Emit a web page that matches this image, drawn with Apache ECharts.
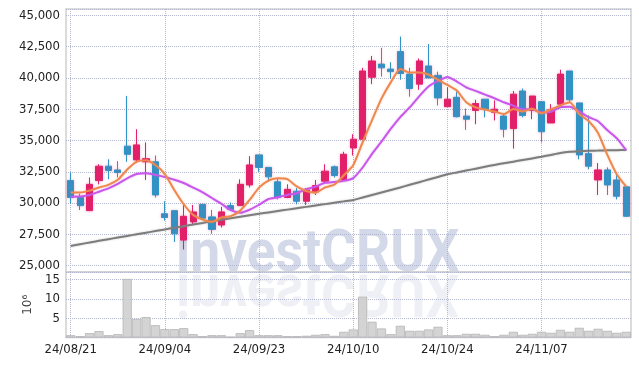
<!DOCTYPE html>
<html><head><meta charset="utf-8">
<script src="https://cdn.jsdelivr.net/npm/echarts@6/dist/echarts.min.js"></script>
<style>html,body{margin:0;padding:0;background:#fff}#c{width:639px;height:366px}</style>
</head><body><div id="c"></div>
<script>
const dates = ['24/08/21','24/08/22','24/08/23','24/08/26','24/08/27','24/08/28','24/08/29','24/08/30','24/09/02','24/09/03',
'24/09/04','24/09/05','24/09/06','24/09/09','24/09/10','24/09/11','24/09/12','24/09/13','24/09/19','24/09/20',
'24/09/23','24/09/24','24/09/25','24/09/26','24/09/27','24/09/30','24/10/02','24/10/04','24/10/07','24/10/08',
'24/10/10','24/10/11','24/10/14','24/10/15','24/10/16','24/10/17','24/10/18','24/10/21','24/10/22','24/10/23',
'24/10/24','24/10/25','24/10/28','24/10/29','24/10/30','24/10/31','24/11/01','24/11/04','24/11/05','24/11/06',
'24/11/07','24/11/08','24/11/11','24/11/12','24/11/13','24/11/14','24/11/15','24/11/18','24/11/19','24/11/20'];
const opens = [31800,30450,29400,31800,32950,32650,34550,33450,33300,33300,
29150,29400,27050,28500,29900,28900,28250,29800,29800,31450,
33850,32850,31700,30450,30950,30150,30900,31750,32900,31850,
34400,35100,40050,41100,40700,42100,40300,39500,40950,40200,
37700,38450,36950,37400,38300,37250,36950,35950,38950,37400,
38100,36400,37900,40550,38000,33950,31850,32650,31850,31300];
const closes = [30450,29800,31500,32950,32600,32450,33900,34650,33550,30650,
28850,27550,28950,29300,28800,27900,29300,29500,31500,33050,
32850,32100,30450,31100,30150,31050,31400,32550,32200,33900,
35100,40550,41350,40800,40500,40350,39150,41350,40000,38400,
38300,36900,36700,37950,37500,37500,35900,38700,37000,38550,
35700,37450,40300,38250,33850,32950,32650,31450,30550,28950];
const lows = [29950,29450,29400,31500,31900,32050,33300,33200,31850,30450,
28600,26900,26300,28250,28750,27550,28050,29450,29800,31250,
32500,31700,30300,30400,29900,29850,30650,31650,32050,31850,
33800,35100,39500,40100,39950,39850,38500,39050,40000,37800,
37700,36850,35850,36300,36850,36600,35250,34350,36850,36700,
34850,36400,37900,38050,33500,32700,30650,30650,30300,28900];
const highs = [32450,30750,32050,33100,33500,33350,38550,35900,34850,33800,
30150,29450,29850,29850,29900,29450,29700,30050,31900,33750,
33850,32850,31950,31500,31200,31200,31850,33100,33000,34100,
35500,40800,41750,42400,41250,43300,40800,41550,42700,40500,
39250,38900,37550,38250,38300,38200,37200,38950,39150,38550,
38100,37900,40650,40550,38000,37000,33200,32850,32250,31300];
const ma5 = [30850,30850,31000,31250,31460,31860,32680,33310,33430,33040,
32320,31050,29910,29060,28690,28500,28850,28960,29400,30250,
31240,31800,31990,31910,31330,30970,30830,31250,31470,32220,
33030,34860,36620,38340,39660,40710,40430,40430,40270,39850,
39440,38990,38060,37650,37470,37310,37110,37510,37320,37530,
37170,37480,37800,38050,37110,36560,35600,33830,32290,31310];
const ma10 = [30510,30520,30650,30910,31180,31530,31980,32320,32380,32250,
32090,31865,31610,31245,30865,30410,29950,29435,29230,29470,
29870,30325,30475,30655,30790,31105,31315,31620,31690,31775,
32000,32845,33935,34905,35940,36870,37645,38525,39305,39755,
40075,39710,39245,38960,38660,38375,38050,37785,37485,37500,
37240,37295,37655,37685,37320,36865,36540,35815,35170,34210];
const ma60 = [26580,26720,26850,26990,27120,27250,27380,27510,27640,27770,
27900,28030,28160,28290,28420,28550,28670,28790,28910,29030,
29150,29260,29370,29480,29590,29700,29810,29920,30030,30140,
30250,30450,30650,30850,31050,31250,31460,31670,31880,32090,
32300,32450,32600,32750,32900,33050,33180,33310,33440,33570,
33700,33850,34000,34100,34150,34180,34200,34220,34230,34240];
const volumes = [0.6,0.35,1.13,1.65,0.6,0.87,15.2,4.8,5.3,3.2,
2.17,2.17,2.43,0.87,0.35,0.6,0.6,0.17,1.13,1.9,
0.6,0.6,0.6,0.35,0.35,0.45,0.7,0.87,0.43,1.48,
2.09,10.6,4.09,2.35,0.87,3.04,1.74,1.74,2.09,2.78,
0.6,0.6,0.96,0.96,0.7,0.35,0.7,1.48,0.7,0.96,
1.48,1.22,2.0,1.48,2.52,1.74,2.26,1.74,1.22,1.48];

const FONT = "'DejaVu Sans Condensed',sans-serif";
const gridDot = {type:'dotted', color:'#b4b9cf', width:1};
const candleData = opens.map((o,i)=>[o, closes[i], lows[i], highs[i]]);
const WM_FONT = "bold 60px 'Roboto',sans-serif";

const chart = echarts.init(document.getElementById('c'), null, {renderer:'canvas'});
chart.setOption({
  animation:false,
  backgroundColor:'#fff',
  grid:[
    {left:66, top:9, width:565, height:263, show:true, borderColor:'#d0d0d0', borderWidth:1.5},
    {left:66, top:272, width:565, height:65.5, show:true, borderColor:'#d0d0d0', borderWidth:1.5}
  ],
  xAxis:[
    {type:'category', gridIndex:0, data:dates, boundaryGap:true,
     axisLine:{show:false}, axisTick:{show:false}, axisLabel:{show:false},
     splitLine:{show:true, interval:9, alignWithLabel:true, lineStyle:gridDot}},
    {type:'category', gridIndex:1, data:dates, boundaryGap:true,
     axisLine:{show:false}, axisTick:{show:false},
     axisLabel:{interval:9, fontFamily:FONT, fontSize:13, color:'#222', margin:6},
     splitLine:{show:true, interval:9, alignWithLabel:true, lineStyle:gridDot}}
  ],
  yAxis:[
    {type:'value', gridIndex:0, min:24500, max:45500, minInterval:2500, maxInterval:2500, splitNumber:8,
     axisLine:{show:false}, axisTick:{show:false},
     axisLabel:{showMinLabel:false, showMaxLabel:false, fontFamily:FONT, fontSize:13, color:'#222', margin:6,
       formatter:v=>v.toLocaleString('en-US')},
     splitLine:{show:true, lineStyle:gridDot}},
    {type:'value', gridIndex:1, min:0, max:17, minInterval:5, maxInterval:5, splitNumber:3,
     axisLine:{show:false}, axisTick:{show:false},
     name:'10\u2076', nameLocation:'middle', nameRotate:90, nameGap:27,
     nameTextStyle:{fontFamily:"'DejaVu Sans',sans-serif", fontSize:12, color:'#444'},
     axisLabel:{showMinLabel:false, showMaxLabel:false, fontFamily:FONT, fontSize:13, color:'#222', margin:6},
     splitLine:{show:true, lineStyle:gridDot}}
  ],
  graphic:[
    {type:'text', x:176, y:226, scaleX:0.89, z:0, silent:true,
     style:{text:'investCRUX', font:WM_FONT, fill:'rgba(170,180,212,0.5)'}},
    {type:'text', x:176, y:320, scaleX:0.89, scaleY:-1, z:0, silent:true,
     style:{text:'investCRUX', font:WM_FONT, fill:'rgba(170,180,212,0.2)'}}
  ],
  series:[
    {type:'candlestick', xAxisIndex:0, yAxisIndex:0, data:candleData, barWidth:'70%', z:3,
     itemStyle:{color:'#e2216a', color0:'#2f95c7', borderColor:'#e2216a', borderColor0:'#2f95c7', borderWidth:1,
       shadowBlur:3, shadowColor:'rgba(226,33,106,0.25)'}},
    {type:'line', xAxisIndex:0, yAxisIndex:0, data:ma60, showSymbol:false, smooth:0.2, z:4,
     lineStyle:{color:'#7d7d7d', width:2, shadowBlur:2, shadowColor:'rgba(120,120,120,0.4)'}},
    {type:'line', xAxisIndex:0, yAxisIndex:0, data:ma10, showSymbol:false, smooth:0.2, z:4,
     lineStyle:{color:'#c957ec', width:2, shadowBlur:2, shadowColor:'rgba(201,87,236,0.4)'}},
    {type:'line', xAxisIndex:0, yAxisIndex:0, data:ma5, showSymbol:false, smooth:0.2, z:5,
     lineStyle:{color:'#f0874e', width:2, shadowBlur:2, shadowColor:'rgba(240,135,78,0.4)'}},
    {type:'bar', xAxisIndex:1, yAxisIndex:1, data:volumes, barCategoryGap:'3%', z:3,
     itemStyle:{color:'rgba(205,205,205,0.85)', borderColor:'#b5b5b5', borderWidth:0.8}}
  ]
});
</script></body></html>
